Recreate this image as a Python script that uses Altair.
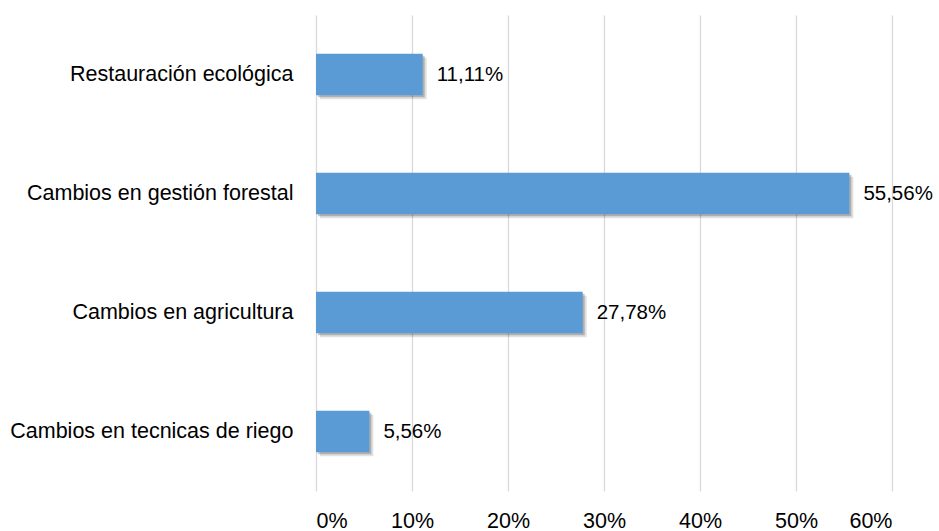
import altair as alt
import pandas as pd

categories = [
    "Restauración ecológica",
    "Cambios en gestión forestal",
    "Cambios en agricultura",
    "Cambios en tecnicas de riego",
]
values = [11.11, 55.56, 27.78, 5.56]
labels = [f"{v:.2f}".replace(".", ",") + "%" for v in values]

df = pd.DataFrame({"cat": categories, "val": [v / 100 for v in values], "label": labels})

FONT = "Liberation Sans"
xscale = alt.Scale(domain=[0, 0.6], nice=False)
yscale = alt.Scale(paddingInner=0.65, paddingOuter=0.325)

y_axis = alt.Y("cat:N", sort=categories, title=None, scale=yscale,
               axis=alt.Axis(domain=False, ticks=False, labelPadding=23,
                             labelFontSize=21.5, labelFont=FONT, labelColor="#000000",
                             labelLimit=320, grid=False))
x_axis = alt.X("val:Q", title=None, scale=xscale,
               axis=alt.Axis(format=".0%", values=[0, 0.1, 0.2, 0.3, 0.4, 0.5, 0.6],
                             domain=False, ticks=False, labelPadding=19,
                             labelFontSize=21.5, labelFont=FONT, labelColor="#000000",
                             grid=True, gridColor="#d9d9d9", gridWidth=1.3))

base = alt.Chart(df).encode(x=x_axis, y=y_axis)

shadow1 = base.mark_bar(color="#000000", opacity=0.12, xOffset=4, yOffset=4,
                        x2Offset=4, y2Offset=4)
shadow2 = base.mark_bar(color="#000000", opacity=0.22, xOffset=2, yOffset=2,
                        x2Offset=2, y2Offset=2)

bars = base.mark_bar(color="#5B9BD5")

text = base.mark_text(align="left", baseline="middle", dx=14, fontSize=20.5, font=FONT,
                      color="#000000").encode(text="label:N")

chart = alt.layer(shadow1, shadow2, bars, text).properties(
    width=576, height=476,
    autosize=alt.AutoSizeParams(type="none"),
    padding={"left": 316, "top": 15, "right": 47, "bottom": 40},
).configure(background="white").configure_view(stroke=None)

chart.save("out.html", embed_options={"renderer": "svg", "actions": False})
